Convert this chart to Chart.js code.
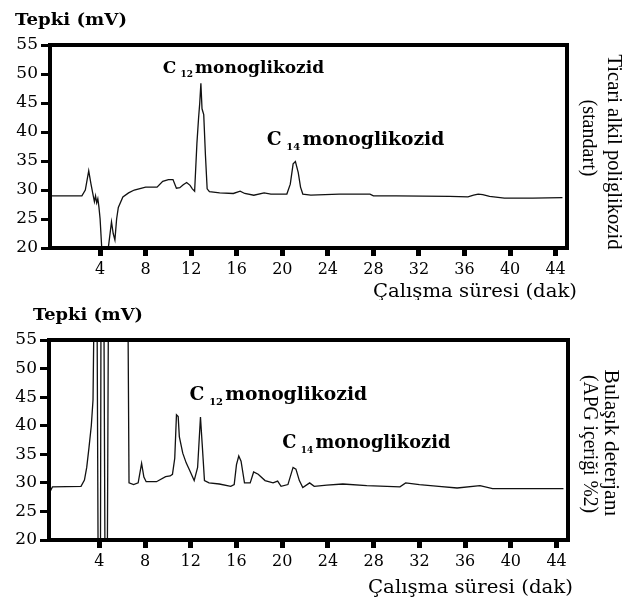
<!DOCTYPE html>
<html>
<head>
  <meta charset="utf-8" />
  <title>APG kromatogramları</title>
  <script src="https://cdn.jsdelivr.net/npm/chart.js"></script>
  <style>
    body {
      background: white;
      margin: 0;
    }
    .panel {
      position: relative;
      width: 627px;
      height: 300px;
    }
  </style>
</head>
<body>

  <div class="panel"><canvas id="topChart" width="627" height="300"></canvas></div>
  <div class="panel"><canvas id="bottomChart" width="627" height="300"></canvas></div>

  <script>
    // axis ticks
    const xTicks = [4, 8, 12, 16, 20, 24, 28, 32, 36, 40, 44];
    const yTicks = [20, 25, 30, 35, 40, 45, 50, 55];

    // Ticari alkil poliglikozid (standart)
    const standardTime = [-0.4, 2.4, 2.7, 3.0, 3.2, 3.4, 3.5, 3.6, 3.7, 3.8, 3.9, 4.0, 4.2, 4.6, 4.75, 5.0, 5.15, 5.3, 5.45, 5.6, 6.0, 6.5, 7.0, 8.0, 9.0, 9.5, 10.0, 10.4, 10.7, 11.0, 11.3, 11.6, 11.9, 12.1, 12.3, 12.5, 12.65, 12.75, 12.85, 12.95, 13.1, 13.25, 13.4, 13.6, 14.5, 15.7, 16.3, 16.7, 17.5, 18.4, 19.0, 20.4, 20.7, 20.95, 21.15, 21.4, 21.6, 21.8, 22.5, 25.0, 27.7, 28.0, 30.0, 34.7, 36.3, 36.8, 37.2, 37.6, 38.2, 39.5, 42.0, 44.6];
    const standardResponse = [29.0, 29.0, 30.0, 33.3, 31.0, 29.0, 28.0, 29.0, 27.8, 28.5, 27.0, 25.0, 18.0, 18.5, 20.5, 24.5, 22.5, 21.4, 25.0, 27.0, 28.8, 29.5, 30.0, 30.5, 30.5, 31.5, 31.8, 31.8, 30.3, 30.4, 30.9, 31.3, 30.8, 30.2, 29.8, 38.0, 42.5, 45.0, 48.4, 44.0, 43.0, 36.0, 30.2, 29.7, 29.5, 29.4, 29.8, 29.4, 29.1, 29.5, 29.3, 29.3, 31.0, 34.5, 34.9, 33.0, 30.5, 29.3, 29.1, 29.3, 29.3, 29.0, 29.0, 28.9, 28.8, 29.1, 29.3, 29.2, 28.9, 28.6, 28.6, 28.7];

    // Bulaşık deterjanı (APG içeriği %2)
    const detergentTime = [-0.3, -0.1, 2.4, 2.7, 2.9, 3.1, 3.3, 3.45, 3.55, 3.8, 3.9, 4.1, 4.15, 4.4, 4.5, 4.7, 4.8, 6.5, 6.6, 7.0, 7.4, 7.7, 7.9, 8.1, 9.0, 9.8, 10.2, 10.4, 10.6, 10.75, 10.9, 11.0, 11.3, 11.6, 11.9, 12.3, 12.6, 12.85, 13.0, 13.2, 13.6, 14.5, 15.5, 15.8, 16.0, 16.2, 16.4, 16.7, 17.2, 17.5, 17.9, 18.5, 19.2, 19.6, 19.9, 20.5, 20.95, 21.2, 21.5, 21.8, 22.4, 22.8, 23.9, 25.3, 27.4, 30.3, 30.8, 32.0, 33.7, 35.3, 37.3, 38.4, 44.6];
    const detergentResponse = [28.5, 29.3, 29.4, 30.5, 32.7, 36.2, 40.0, 44.5, 62, 62, 15, 15, 62, 62, 15, 15, 62, 62, 30.0, 29.7, 30.0, 33.4, 31.0, 30.2, 30.2, 31.1, 31.2, 31.5, 34.3, 41.9, 41.6, 38.1, 35.2, 33.5, 32.2, 30.4, 32.7, 41.5, 36.8, 30.4, 30.0, 29.8, 29.4, 29.7, 33.2, 34.7, 33.8, 30.0, 30.0, 31.9, 31.5, 30.4, 30.0, 30.3, 29.4, 29.7, 32.7, 32.4, 30.4, 29.2, 30.0, 29.4, 29.6, 29.8, 29.5, 29.3, 30.0, 29.7, 29.4, 29.1, 29.5, 29.0, 29.0];

    const serif = '"DejaVu Serif", serif';

    // draw text squeezed/stretched to a given width
    function fitText(ctx, text, x, y, font, width) {
      ctx.font = font;
      const m = ctx.measureText(text).width;
      ctx.save();
      ctx.translate(x, y);
      ctx.scale(width / m, 1);
      ctx.textAlign = 'left';
      ctx.textBaseline = 'alphabetic';
      ctx.fillText(text, 0, 0);
      ctx.restore();
    }

    function sideText(ctx, text, cx, cy, len) {
      ctx.font = '20px "Liberation Serif", serif';
      const m = ctx.measureText(text).width;
      ctx.save();
      ctx.translate(cx, cy);
      ctx.rotate(Math.PI / 2);
      ctx.scale(len / m, 1);
      ctx.textAlign = 'center';
      ctx.textBaseline = 'middle';
      ctx.fillText(text, 0, 0);
      ctx.restore();
    }

    const chromText = {
      id: 'chromText',
      afterDraw(chart, args, opts) {
        const ctx = chart.ctx;
        const a = chart.chartArea;
        const xs = chart.scales.x;
        const ys = chart.scales.y;
        ctx.save();
        ctx.strokeStyle = '#000';
        ctx.lineWidth = 4;
        ctx.strokeRect(a.left, a.top, a.right - a.left, a.bottom - a.top);
        ctx.fillStyle = '#000';

        fitText(ctx, 'Tepki (mV)', opts.yTitle.x, opts.yTitle.y, 'bold 17px ' + serif, opts.yTitle.w);
        fitText(ctx, 'Çalışma süresi (dak)', opts.xTitle.x, opts.xTitle.y, '19px ' + serif, opts.xTitle.w);
        opts.side.forEach(s => sideText(ctx, s.text, s.x, s.y, s.len));

        // peak labels: C + subscript + monoglikozid
        opts.peaks.forEach(p => {
          let px = xs.getPixelForValue(p.x);
          const py = ys.getPixelForValue(p.y);
          ctx.textAlign = 'left';
          ctx.textBaseline = 'alphabetic';
          ctx.font = 'bold ' + p.size + 'px ' + serif;
          ctx.fillText('C', px, py);
          px += ctx.measureText('C').width + p.size * 0.25;
          ctx.font = 'bold ' + Math.round(p.size * 0.52) + 'px ' + serif;
          ctx.fillText(p.sub, px, py + p.size * 0.27);
          px += ctx.measureText(p.sub).width + p.size * 0.12;
          ctx.font = 'bold ' + p.size + 'px ' + serif;
          ctx.fillText('monoglikozid', px, py);
        });
        ctx.restore();
      }
    };

    function makeChart(id, time, response, cfg) {
      const points = time.map((t, i) => ({ x: t, y: response[i] }));
      return new Chart(document.getElementById(id), {
        type: 'line',
        data: {
          datasets: [{
            data: points,
            borderColor: '#111',
            borderWidth: 1.3,
            pointRadius: 0,
            tension: 0,
            fill: false
          }]
        },
        options: {
          responsive: false,
          animation: false,
          layout: {
            padding: { top: cfg.padTop, right: cfg.padRight, left: 0, bottom: 0 }
          },
          plugins: {
            legend: { display: false },
            tooltip: { enabled: false },
            chromText: cfg
          },
          scales: {
            x: {
              type: 'linear',
              min: -0.4,
              max: 45,
              afterBuildTicks: s => { s.ticks = xTicks.map(v => ({ value: v })); },
              afterFit: s => { s.height = cfg.xHeight; },
              ticks: {
                color: '#000',
                padding: 4,
                maxRotation: 0,
                font: { family: serif, size: 16 }
              },
              grid: {
                drawOnChartArea: false,
                drawTicks: true,
                tickLength: 8,
                tickWidth: 5,
                tickColor: '#000'
              },
              border: { display: false }
            },
            y: {
              min: 20,
              max: 55,
              afterBuildTicks: s => { s.ticks = yTicks.map(v => ({ value: v })); },
              afterFit: s => { s.width = cfg.yWidth; },
              ticks: {
                color: '#000',
                padding: 3,
                font: { family: serif, size: 17 }
              },
              grid: {
                drawOnChartArea: false,
                drawTicks: true,
                tickLength: 9,
                tickWidth: 3,
                tickColor: '#000'
              },
              border: { display: false }
            }
          }
        },
        plugins: [chromText]
      });
    }

    makeChart('topChart', standardTime, standardResponse, {
      padTop: 45, padRight: 60, yWidth: 50, xHeight: 52,
      yTitle: { x: 15, y: 25, w: 112 },
      xTitle: { x: 373, y: 297, w: 204 },
      side: [
        { text: 'Ticari alkil poliglikozid', x: 613, y: 152, len: 195 },
        { text: '(standart)', x: 588, y: 138, len: 77 }
      ],
      peaks: [
        { x: 9.5, y: 50.2, sub: '12', size: 17 },
        { x: 18.64, y: 37.8, sub: '14', size: 18.7 }
      ]
    });

    makeChart('bottomChart', detergentTime, detergentResponse, {
      padTop: 40, padRight: 59, yWidth: 49, xHeight: 60,
      yTitle: { x: 33, y: 20, w: 110 },
      xTitle: { x: 368, y: 293, w: 205 },
      side: [
        { text: 'Bulaşık deterjanı', x: 610, y: 143, len: 147 },
        { text: '(APG içeriği %2)', x: 589, y: 144, len: 138 }
      ],
      peaks: [
        { x: 11.9, y: 44.5, sub: '12', size: 18.7 },
        { x: 20.0, y: 36.1, sub: '14', size: 17.8 }
      ]
    });
  </script>

</body>
</html>
